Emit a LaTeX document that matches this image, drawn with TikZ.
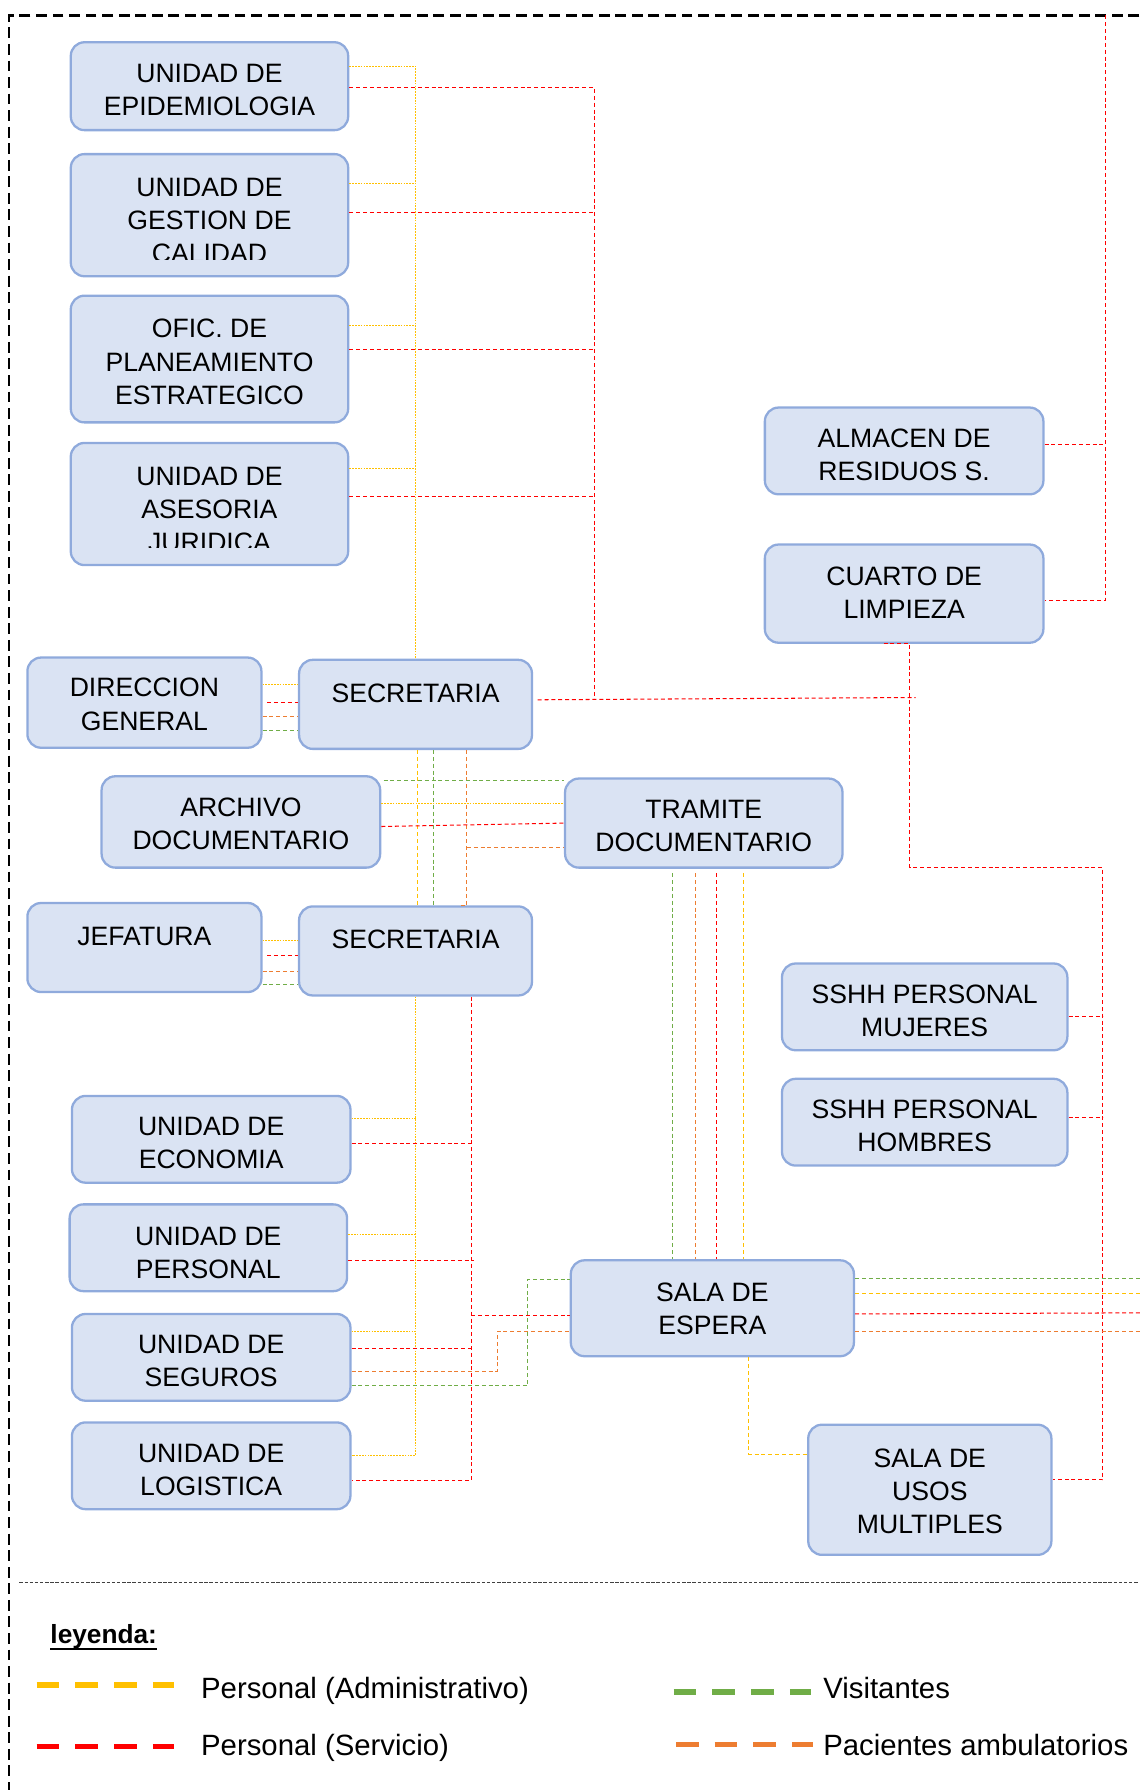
\documentclass[tikz,border=0pt]{standalone}
\usepackage{fontspec}
\setmainfont{Liberation Sans}
\definecolor{boxfill}{HTML}{DAE3F3}
\definecolor{boxline}{HTML}{8FAADC}
\definecolor{cadm}{HTML}{FFC000}
\definecolor{csrv}{HTML}{FF0000}
\definecolor{cvis}{HTML}{70AD47}
\definecolor{camb}{HTML}{ED7D31}
\tikzset{
  room/.style={draw=boxline, fill=boxfill, line width=2pt, rounded corners=12pt, inner sep=0pt},
  rtext/.style={font=\fontsize{23.3}{29}\selectfont, align=center, inner sep=0pt, text=black},
  flow/.style={line width=0.9pt, dash pattern=on 3.5pt off 2.5pt},
  adm/.style={flow, draw=cadm},
  admfine/.style={draw=cadm, line width=0.8pt, dash pattern=on 1.5pt off 1pt},
  srv/.style={flow, draw=csrv},
  vis/.style={flow, draw=cvis},
  amb/.style={flow, draw=camb},
  frame/.style={draw=black, line width=2.2pt, dash pattern=on 9.5pt off 5pt},
  sep/.style={draw=black!75, line width=0.9pt, dash pattern=on 3pt off 1.5pt},
  swatch/.style={line width=5pt, dash pattern=on 20pt off 14pt},
  legtext/.style={font=\fontsize{25.7}{30}\selectfont, inner sep=0pt, anchor=base west}
}
% box with its caption: name, x1, y1, x2, y2, caption centre y, caption
\newcommand\roomnode[7]{%
  \node[room, minimum width={#4-#2}, minimum height={#5-#3}] (#1) at ({(#2+#4)/2},{(#3+#5)/2}) {};
  \node[rtext] (#1-t) at ({(#2+#4)/2},#6) {#7};}
\begin{document}
\begin{tikzpicture}[x=1pt,y=-1pt]
\useasboundingbox (0,0) rectangle (998,1568);

% outer frame and legend separator
\draw[frame] (998,13.5) -- (8,13.5) -- (8,1568);
\draw[sep] (17,1386) -- (998,1386);

% ---------- rooms ----------
\roomnode{epi}{62}{37}{305}{114}{78.5}{UNIDAD DE\\EPIDEMIOLOGIA}
\node[room, minimum width=243, minimum height=107] (gest) at (183.5,188.5) {};
\begin{scope}
  \clip (62,135) rectangle (305,227.5);
  \node[rtext] (gest-t) at (183.5,193) {UNIDAD DE\\GESTION DE\\CALIDAD};
\end{scope}
\roomnode{ofic}{62}{259}{305}{370}{317}{OFIC. DE\\PLANEAMIENTO\\ESTRATEGICO}
\node[room, minimum width=243, minimum height=107] (ases) at (183.5,441.5) {};
\begin{scope}
  \clip (62,388) rectangle (305,480);
  \node[rtext] (ases-t) at (183.5,446) {UNIDAD DE\\ASESORIA\\JURIDICA};
\end{scope}

\roomnode{dir}{24}{576}{229}{655}{617}{DIRECCION\\GENERAL}
\roomnode{sec1}{262}{578}{466}{656}{607}{SECRETARIA}
\roomnode{arch}{89}{680}{333}{760}{722}{ARCHIVO\\DOCUMENTARIO}
\roomnode{tram}{495}{682}{738}{760}{723.5}{TRAMITE\\DOCUMENTARIO}
\roomnode{jef}{24}{791}{229}{869}{820}{JEFATURA}
\roomnode{sec2}{262}{794}{466}{872}{822.5}{SECRETARIA}

\roomnode{alm}{670}{357}{914}{433}{398.5}{ALMACEN DE\\RESIDUOS S.}
\roomnode{cuarto}{670}{477}{914}{563}{519.5}{CUARTO DE\\LIMPIEZA}
\roomnode{mujer}{685}{844}{935}{920}{885.5}{SSHH PERSONAL\\MUJERES}
\roomnode{hombre}{685}{945}{935}{1021}{986.5}{SSHH PERSONAL\\HOMBRES}

\roomnode{eco}{63}{960}{307}{1036}{1001.5}{UNIDAD DE\\ECONOMIA}
\roomnode{pers}{61}{1055}{304}{1131}{1097.5}{UNIDAD DE\\PERSONAL}
\roomnode{seg}{63}{1151}{307}{1227}{1192.5}{UNIDAD DE\\SEGUROS}
\roomnode{logi}{63}{1246}{307}{1322}{1287.5}{UNIDAD DE\\LOGISTICA}

\roomnode{espera}{500}{1104}{748}{1188}{1146.5}{SALA DE\\ESPERA}
\roomnode{usos}{708}{1248}{921}{1362}{1306.5}{SALA DE\\USOS\\MULTIPLES}

% ---------- upper offices ----------
\draw[admfine] (epi.east |- 0,58) -- (sec1.north |- 0,58) -- (sec1.north);
\draw[admfine] (gest.east |- 0,161) -- (sec1.north |- 0,161);
\draw[admfine] (ofic.east |- 0,285) -- (sec1.north |- 0,285);
\draw[admfine] (ases.east |- 0,410) -- (sec1.north |- 0,410);

\coordinate (rj) at (521,613);
\draw[srv] (epi.east |- 0,77) -- (rj |- 0,77) -- (rj);
\draw[srv] (gest.east |- 0,186) -- (rj |- 0,186);
\draw[srv] (ofic.east |- 0,306) -- (rj |- 0,306);
\draw[srv] (ases.east |- 0,435) -- (rj |- 0,435);
\coordinate (rk) at (802,611);
\draw[srv] ([xshift=4pt]sec1.east |- 0,613) -- (rk);

% ---------- service rooms on the right ----------
\coordinate (rt) at (968,13.5);
\draw[srv] (rt) -- (rt |- 0,526) -- (cuarto.east |- 0,526);
\draw[srv] (alm.east |- 0,389) -- (rt |- 0,389);

\coordinate (rb) at (966,760);
\draw[srv] ([xshift=-18pt]cuarto.south) -- (cuarto.south -| 797,0) -- (797,760) -- (rb)
           -- (rb |- 0,1296) -- (usos.east |- 0,1296);
\draw[srv] (mujer.east |- 0,890) -- (rb |- 0,890);
\draw[srv] (hombre.east |- 0,979) -- (rb |- 0,979);

% ---------- direction / secretaries ----------
\draw[admfine] (dir.east |- 0,600) -- (sec1.west |- 0,600);
\draw[srv] ([xshift=4pt]dir.east |- 0,615) -- (sec1.west |- 0,615);
\draw[amb] (dir.east |- 0,628) -- (sec1.west |- 0,628);
\draw[vis] (dir.east |- 0,640) -- (sec1.west |- 0,640);

\draw[admfine] (jef.east |- 0,824) -- (sec2.west |- 0,824);
\draw[srv] ([xshift=4pt]jef.east |- 0,837) -- (sec2.west |- 0,837);
\draw[amb] (jef.east |- 0,851) -- (sec2.west |- 0,851);
\draw[vis] (jef.east |- 0,862) -- (sec2.west |- 0,862);

\draw[adm] (sec1.south -| 366,0) -- (sec2.north -| 366,0);
\draw[vis] (sec1.south -| 380,0) -- (sec2.north -| 380,0);
\draw[amb] (sec1.south -| 409,0) -- (sec2.north -| 409,0) -- (sec2.north -| 403,0);

% ---------- archive and document office ----------
\draw[vis] ([xshift=2pt]arch.east |- 0,684) -- (tram.west |- 0,684);
\draw[admfine] (arch.east |- 0,704) -- (tram.west |- 0,704);
\draw[srv] (arch.east |- 0,724) -- (tram.west |- 0,721);
\draw[amb] (409,742) -- (tram.west |- 0,742);

\draw[vis] (589,765) -- (espera.north -| 589,0);
\draw[amb] (609,765) -- (espera.north -| 609,0);
\draw[srv] (628,765) -- (espera.north -| 628,0);
\draw[adm] (651,765) -- (espera.north -| 651,0);

% ---------- lower offices ----------
\draw[admfine] (sec2.south) -- (sec2.south |- 0,1275) -- (logi.east |- 0,1275);
\draw[admfine] (eco.east |- 0,980) -- (sec2.south |- 0,980);
\draw[admfine] (pers.east |- 0,1081) -- (sec2.south |- 0,1081);
\draw[admfine] (seg.east |- 0,1166) -- (sec2.south |- 0,1166);

\coordinate (rl) at (413,1297);
\draw[srv] (sec2.south -| rl) -- (rl) -- (logi.east |- rl);
\draw[srv] (eco.east |- 0,1002) -- (415,1002);
\draw[srv] (pers.east |- 0,1104) -- (415,1104);
\draw[srv] (seg.east |- 0,1181) -- (415,1181);
\draw[srv] (rl |- 0,1152) -- (espera.west |- 0,1152);

\draw[amb] (seg.east |- 0,1201) -- (436,1201) -- (436,1166) -- (espera.west |- 0,1166);
\draw[vis] (seg.east |- 0,1214) -- (462,1214) -- (462,1121) -- (espera.west |- 0,1121);

% ---------- waiting room ----------
\draw[vis] (espera.east |- 0,1120) -- (1000,1120);
\draw[adm] (espera.east |- 0,1133) -- (1000,1133);
\draw[srv] (espera.east |- 0,1151) -- (1000,1150);
\draw[amb] (espera.east |- 0,1166) -- (1000,1166);
\draw[adm] (espera.south -| 656,0) -- (656,1274) -- (usos.west |- 0,1274);

% ---------- legend ----------
\node[font=\fontsize{23}{28}\selectfont\bfseries, inner sep=0pt, anchor=base west] (leg) at (44,1440) {leyenda:};
\draw[line width=1.6pt] (leg.south west |- 0,1444.5) -- (leg.south east |- 0,1444.5);

\draw[swatch, cadm] (32,1476) -- (152,1476);
\node[legtext] (l-adm) at (176,1488) {Personal (Administrativo)};
\draw[swatch, csrv] (32,1530) -- (152,1530);
\node[legtext] (l-srv) at (176,1538) {Personal (Servicio)};
\draw[swatch, cvis] (590,1482) -- (710,1482);
\node[legtext] (l-vis) at (721,1488) {Visitantes};
\draw[swatch, camb] (592,1528) -- (712,1528);
\node[legtext] (l-amb) at (721,1538) {Pacientes ambulatorios};
\end{tikzpicture}
\end{document}
